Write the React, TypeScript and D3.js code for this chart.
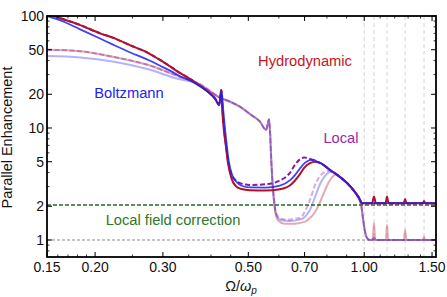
import React from 'react';
import * as d3 from 'd3';

type Pt = [number, number];

// ---------- data ----------
const xTickValues = [0.15, 0.2, 0.3, 0.5, 0.7, 1.0, 1.5];
const xTickLabels = ['0.15', '0.20', '0.30', '0.50', '0.70', '1.00', '1.50'];
const xMinorTicks = [0.16, 0.17, 0.18, 0.19, 0.25, 0.35, 0.4, 0.45, 0.6, 0.8, 0.9, 1.1, 1.2, 1.3, 1.4];
const yTickValues = [1, 2, 5, 10, 20, 50, 100];
const yTickLabels = ['1', '2', '5', '10', '20', '50', '100'];
const yMinorTicks = [0.8, 0.9, 3, 4, 6, 7, 8, 9, 30, 40, 60, 70, 80, 90];
const bandEdges = [1.0, 1.06, 1.146, 1.277, 1.43];
const localFieldLevel = 2.05;
const unityLevel = 1;

const hydro: Pt[] = [
  [0.15, 107], [0.162, 96], [0.183, 83], [0.206, 70], [0.224, 63.5], [0.246, 55], [0.275, 46.7],
  [0.295, 40.5], [0.313, 35.5], [0.332, 31], [0.353, 27.4], [0.375, 23.8], [0.398, 20.3],
  [0.41, 18.3], [0.42, 16.0], [0.425, 21.8], [0.428, 14], [0.432, 9.5], [0.437, 7.0],
  [0.443, 4.8], [0.452, 3.55], [0.465, 3.0], [0.48, 2.85], [0.505, 2.78], [0.553, 2.76],
  [0.604, 2.84], [0.642, 3.08], [0.661, 3.4], [0.681, 3.88], [0.70, 4.45], [0.723, 4.85],
  [0.745, 5.0], [0.768, 4.88], [0.815, 4.22], [0.865, 3.65], [0.902, 3.23], [0.946, 2.68],
  [0.970, 2.37], [0.987, 2.13], [1.048, 2.13], [1.060, 2.44], [1.072, 2.13], [1.136, 2.13],
  [1.146, 2.44], [1.156, 2.13], [1.266, 2.13], [1.277, 2.32], [1.288, 2.13], [1.42, 2.13],
  [1.43, 2.23], [1.44, 2.13], [1.54, 2.13],
];

const boltzmann: Pt[] = [
  [0.15, 100], [0.162, 92], [0.183, 76], [0.206, 63], [0.224, 55], [0.246, 47.5], [0.275, 40.5],
  [0.295, 36], [0.313, 32.5], [0.332, 29], [0.353, 26.5], [0.375, 23.5], [0.398, 20.2],
  [0.41, 18.2], [0.42, 16.3], [0.426, 21.5], [0.43, 15], [0.434, 10.5], [0.439, 7.3],
  [0.445, 5.0], [0.454, 3.8], [0.468, 3.25], [0.48, 3.05], [0.505, 2.95], [0.553, 2.94],
  [0.604, 3.06], [0.642, 3.42], [0.661, 3.8], [0.681, 4.35], [0.70, 4.85], [0.72, 5.15],
  [0.735, 5.23], [0.755, 5.0], [0.768, 4.88], [0.815, 4.22], [0.865, 3.65], [0.902, 3.23],
  [0.946, 2.68], [0.970, 2.37], [0.987, 2.13], [1.54, 2.13],
];

const local: Pt[] = [
  [0.15, 107], [0.162, 96], [0.183, 83], [0.206, 70], [0.224, 63.5], [0.246, 55], [0.275, 46.7],
  [0.295, 40.5], [0.313, 35.5], [0.332, 31], [0.353, 27.4], [0.375, 23.8], [0.398, 20.3],
  [0.41, 18.3], [0.42, 16.2], [0.4255, 21.8], [0.429, 14], [0.433, 9.5], [0.437, 7.2],
  [0.442, 5.3], [0.45, 4.0], [0.465, 3.38], [0.476, 3.22], [0.505, 3.1], [0.553, 3.14],
  [0.604, 3.4], [0.642, 4.0], [0.661, 4.7], [0.681, 5.25], [0.698, 5.45], [0.715, 5.37],
  [0.732, 5.2], [0.75, 5.0], [0.768, 4.88], [0.815, 4.22], [0.865, 3.65], [0.902, 3.23],
  [0.946, 2.68], [0.970, 2.37], [0.987, 2.13], [1.54, 2.13],
];

const hydroNoLF: Pt[] = [
  [0.15, 50], [0.183, 48.5], [0.224, 43], [0.275, 36.5], [0.332, 28.7], [0.359, 26.3],
  [0.375, 24.5], [0.42, 18.9], [0.45, 17.1], [0.476, 15.5], [0.505, 13.3], [0.536, 11.4],
  [0.556, 9.6], [0.566, 12.0], [0.570, 8.5], [0.573, 5.5], [0.577, 3.5], [0.582, 2.3],
  [0.588, 1.75], [0.597, 1.5], [0.62, 1.40], [0.66, 1.40], [0.70, 1.45], [0.723, 1.57],
  [0.745, 1.78], [0.768, 2.18], [0.791, 2.79], [0.815, 3.43], [0.84, 3.8], [0.855, 3.75],
  [0.865, 3.65], [0.902, 3.23], [0.946, 2.68], [0.964, 2.42], [0.982, 2.05], [0.994, 1.5],
  [1.005, 1.18], [1.017, 1.04], [1.035, 1.0], [1.052, 1.0], [1.060, 1.42], [1.068, 1.0],
  [1.138, 1.0], [1.146, 1.36], [1.154, 1.0], [1.268, 1.0], [1.277, 1.23], [1.287, 1.0],
  [1.419, 1.0], [1.43, 1.07], [1.441, 1.0], [1.54, 1.0],
];

const boltzmannNoLF: Pt[] = [
  [0.15, 44], [0.183, 42.7], [0.224, 39], [0.275, 33.4], [0.332, 27.2], [0.359, 25.8],
  [0.375, 24.0], [0.42, 18.7], [0.45, 17.0], [0.476, 15.4], [0.505, 13.3], [0.536, 11.4],
  [0.556, 9.6], [0.566, 12.0], [0.570, 8.5], [0.573, 5.5], [0.577, 3.5], [0.582, 2.4],
  [0.588, 1.8], [0.597, 1.58], [0.61, 1.50], [0.64, 1.48], [0.68, 1.52], [0.70, 1.60],
  [0.723, 1.85], [0.745, 2.42], [0.768, 3.16], [0.791, 3.73], [0.815, 4.05], [0.84, 3.95],
  [0.865, 3.65], [0.902, 3.23], [0.946, 2.68], [0.964, 2.42], [0.982, 2.05], [0.994, 1.5],
  [1.005, 1.18], [1.017, 1.04], [1.035, 1.0], [1.052, 1.01], [1.060, 1.04], [1.068, 1.01],
  [1.08, 1.0], [1.54, 1.0],
];

const localNoLF: Pt[] = [
  [0.15, 50], [0.183, 48.5], [0.224, 43], [0.275, 36.5], [0.332, 28.7], [0.359, 26.3],
  [0.375, 24.5], [0.42, 18.9], [0.45, 17.1], [0.476, 15.5], [0.505, 13.3], [0.536, 11.4],
  [0.556, 9.6], [0.566, 12.0], [0.570, 8.5], [0.573, 5.5], [0.577, 3.5], [0.582, 2.5],
  [0.588, 1.85], [0.597, 1.62], [0.61, 1.54], [0.64, 1.52], [0.66, 1.55], [0.681, 1.57],
  [0.70, 1.78], [0.723, 2.28], [0.745, 3.10], [0.768, 3.73], [0.791, 4.05], [0.815, 4.17],
  [0.84, 3.95], [0.865, 3.65], [0.902, 3.23], [0.946, 2.68], [0.964, 2.42], [0.982, 2.05],
  [0.994, 1.5], [1.005, 1.18], [1.017, 1.04], [1.035, 1.0], [1.052, 1.01], [1.060, 1.04],
  [1.068, 1.01], [1.08, 1.0], [1.54, 1.0],
];

// ---------- layout ----------
const W = 447;
const H = 297;
const L = 47, R = 436, T = 16, B = 257;

const RED = '#b0122b';
const BLUE = '#1f1ff5';
const PURPLE = '#8b1a9b';
const GREEN = '#1d6b1d';
const FONT = "'Liberation Sans', Arial, Helvetica, sans-serif";

export default function App() {
  const x = d3.scaleLog().domain([0.15, 1.536]).range([L, R]);
  const y = d3.scaleLog().domain([0.705, 100]).range([B, T]);
  const line = d3.line<Pt>().x((d) => x(d[0])).y((d) => y(d[1])).curve(d3.curveMonotoneX);

  const majorLen = 5;
  const minorLen = 2.5;

  return (
    <svg width={W} height={H} style={{ position: 'absolute', left: 0, top: 0, background: '#fff' }} fontFamily={FONT}>
      <defs>
        <clipPath id="plotArea">
          <rect x={L} y={T} width={R - L} height={B - T} />
        </clipPath>
      </defs>

      <g clipPath="url(#plotArea)">
        {bandEdges.map((v, i) => (
          <line key={'v' + i} x1={x(v)} x2={x(v)} y1={T} y2={B} stroke="#cfcfcf" strokeWidth={0.9} strokeDasharray="4,3" />
        ))}
        <line x1={L} x2={R} y1={y(unityLevel)} y2={y(unityLevel)} stroke="#8a8a8a" strokeWidth={1} strokeDasharray="3,2" />

        {/* light curves (without local field correction) */}
        <path d={line(hydroNoLF) || ''} fill="none" stroke={RED} strokeOpacity={0.36} strokeWidth={2} />
        <path d={line(boltzmannNoLF) || ''} fill="none" stroke={BLUE} strokeOpacity={0.34} strokeWidth={2} />
        <path d={line(localNoLF) || ''} fill="none" stroke={PURPLE} strokeOpacity={0.36} strokeWidth={2} strokeDasharray="5,2.5" />

        <line x1={L} x2={R} y1={y(localFieldLevel)} y2={y(localFieldLevel)} stroke={GREEN} strokeWidth={1.5} strokeDasharray="4,2" />

        {/* dark curves */}
        <path d={line(local) || ''} fill="none" stroke={PURPLE} strokeWidth={2} strokeDasharray="5,2.5" />
        <path d={line(hydro) || ''} fill="none" stroke={RED} strokeWidth={2} strokeLinejoin="round" />
        <path d={line(boltzmann) || ''} fill="none" stroke={BLUE} strokeWidth={1.8} strokeLinejoin="round" strokeOpacity={0.85} />
      </g>

      {/* frame */}
      <rect x={L} y={T} width={R - L} height={B - T} fill="none" stroke="#000" strokeWidth={1.8} />

      {/* x ticks */}
      {xTickValues.map((v, i) => (
        <g key={'xt' + i}>
          <line x1={x(v)} x2={x(v)} y1={B} y2={B - majorLen} stroke="#000" strokeWidth={1} />
          <line x1={x(v)} x2={x(v)} y1={T} y2={T + majorLen} stroke="#000" strokeWidth={1} />
          <text x={x(v)} y={272} textAnchor="middle" fontSize={14} fill="#111">{xTickLabels[i]}</text>
        </g>
      ))}
      {xMinorTicks.map((v, i) => (
        <g key={'xm' + i}>
          <line x1={x(v)} x2={x(v)} y1={B} y2={B - minorLen} stroke="#000" strokeWidth={0.8} />
          <line x1={x(v)} x2={x(v)} y1={T} y2={T + minorLen} stroke="#000" strokeWidth={0.8} />
        </g>
      ))}

      {/* y ticks */}
      {yTickValues.map((v, i) => (
        <g key={'yt' + i}>
          <line x1={L} x2={L + majorLen} y1={y(v)} y2={y(v)} stroke="#000" strokeWidth={1} />
          <line x1={R} x2={R - majorLen} y1={y(v)} y2={y(v)} stroke="#000" strokeWidth={1} />
          <text x={44} y={y(v) + 5} textAnchor="end" fontSize={14} fill="#111">{yTickLabels[i]}</text>
        </g>
      ))}
      {yMinorTicks.map((v, i) => (
        <g key={'ym' + i}>
          <line x1={L} x2={L + minorLen} y1={y(v)} y2={y(v)} stroke="#000" strokeWidth={0.8} />
          <line x1={R} x2={R - minorLen} y1={y(v)} y2={y(v)} stroke="#000" strokeWidth={0.8} />
        </g>
      ))}

      {/* axis titles */}
      <text transform={`translate(12, ${(T + B) / 2 + 1}) rotate(-90)`} textAnchor="middle" fontSize={14.5} fill="#111">
        Parallel Enhancement
      </text>
      <text x={241} y={291} textAnchor="middle" fontSize={14.5} fill="#111">
        Ω/<tspan fontStyle="italic">ω</tspan>
        <tspan fontStyle="italic" fontSize={10} dy={3}>p</tspan>
      </text>

      {/* curve labels */}
      <text x={305} y={66} textAnchor="middle" fontSize={14.7} fill="#c4161c">Hydrodynamic</text>
      <text x={129} y={98} textAnchor="middle" fontSize={14.7} fill="#2323f0">Boltzmann</text>
      <text x={341} y={143} textAnchor="middle" fontSize={14.7} fill="#9a28a8">Local</text>
      <text x={173} y={225} textAnchor="middle" fontSize={14.7} fill="#2a7a2a">Local field correction</text>
    </svg>
  );
}
